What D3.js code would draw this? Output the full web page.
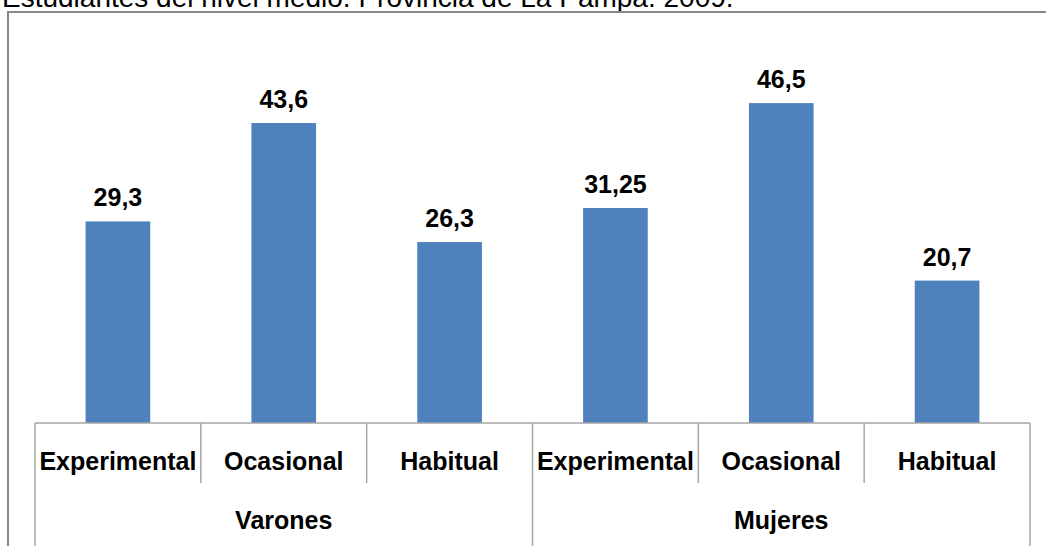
<!DOCTYPE html>
<html>
<head>
<meta charset="utf-8">
<script src="https://cdn.jsdelivr.net/npm/d3@7"></script>
<style>
  body { margin: 0; background: #fff; }
  svg { display: block; }
  text { font-family: "Liberation Sans", Arial, sans-serif; fill: #000; }
</style>
</head>
<body>
<div id="chart"></div>
<script>
// Data
var groups = ["Varones", "Mujeres"];
var categories = ["Experimental", "Ocasional", "Habitual"];
var valuesVarones = [29.3, 43.6, 26.3];
var valuesMujeres = [31.25, 46.5, 20.7];
var valueLabels = ["29,3", "43,6", "26,3", "31,25", "46,5", "20,7"];
var title = "Estudiantes del nivel medio. Provincia de La Pampa. 2009.";

var w = 1046, h = 546;
var left = 35, right = 1030, base = 423;

var rows = [];
[valuesVarones, valuesMujeres].forEach(function(vals, g) {
  vals.forEach(function(v, i) {
    rows.push({ group: groups[g], cat: categories[i], key: g + "-" + i, value: v, label: valueLabels[g * 3 + i] });
  });
});

var svg = d3.select("#chart").append("svg")
  .attr("width", w)
  .attr("height", h);

// title (partly cut at the top, as in the original)
svg.append("text")
  .attr("x", 2)
  .attr("y", 7)
  .style("font-size", "28px")
  .text(title);

// outer frame
svg.append("rect")
  .attr("x", 8)
  .attr("y", 12)
  .attr("width", w + 10)
  .attr("height", h)
  .attr("fill", "none")
  .attr("stroke", "#888")
  .attr("stroke-width", 2);

var x = d3.scaleBand()
  .domain(rows.map(function(d) { return d.key; }))
  .range([left, right])
  .paddingInner(0)
  .paddingOuter(0);

var y = d3.scaleLinear()
  .domain([0, 50])
  .range([base, base - 50 * 6.88]);

var barW = x.bandwidth() * 0.39;

svg.selectAll("rect.bar")
  .data(rows)
  .enter()
  .append("rect")
    .attr("class", "bar")
    .attr("x", function(d) { return x(d.key) + (x.bandwidth() - barW) / 2; })
    .attr("y", function(d) { return y(d.value); })
    .attr("width", barW)
    .attr("height", function(d) { return base - y(d.value); })
    .attr("fill", "#4F81BD");

svg.selectAll("text.val")
  .data(rows)
  .enter()
  .append("text")
    .attr("class", "val")
    .attr("x", function(d) { return x(d.key) + x.bandwidth() / 2; })
    .attr("y", function(d) { return y(d.value) - 15; })
    .attr("text-anchor", "middle")
    .style("font-size", "25px")
    .style("font-weight", "bold")
    .text(function(d) { return d.label; });

// axis lines
var axis = svg.append("g").attr("stroke", "#a6a6a6").attr("stroke-width", 1.5);
axis.append("line").attr("x1", left).attr("x2", right).attr("y1", base).attr("y2", base);

var bounds = x.domain().map(function(k) { return x(k); }).concat([right]);
bounds.forEach(function(bx, i) {
  var full = (i % 3 === 0);
  axis.append("line")
    .attr("x1", bx).attr("x2", bx)
    .attr("y1", base)
    .attr("y2", full ? h : 483);
});

// category labels
svg.selectAll("text.cat")
  .data(rows)
  .enter()
  .append("text")
    .attr("class", "cat")
    .attr("x", function(d) { return x(d.key) + x.bandwidth() / 2; })
    .attr("y", 470)
    .attr("text-anchor", "middle")
    .style("font-size", "25px")
    .style("font-weight", "bold")
    .text(function(d) { return d.cat; });

// group labels
svg.selectAll("text.grp")
  .data(groups)
  .enter()
  .append("text")
    .attr("class", "grp")
    .attr("x", function(d, i) { return left + (right - left) / 4 + i * (right - left) / 2; })
    .attr("y", 529)
    .attr("text-anchor", "middle")
    .style("font-size", "25px")
    .style("font-weight", "bold")
    .text(function(d) { return d; });
</script>
</body>
</html>
